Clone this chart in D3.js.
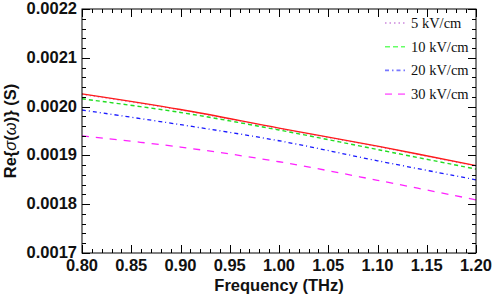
<!DOCTYPE html>
<html>
<head>
<meta charset="utf-8">
<script src="https://cdn.jsdelivr.net/npm/d3@7"></script>
<style>
  body { margin: 0; background: #fff; }
  svg { display: block; }
  .tick-label { font-family: "Liberation Sans", Arial, sans-serif; font-weight: bold; font-size: 16.5px; fill: #111; }
  .axis-title { font-family: "Liberation Sans", Arial, sans-serif; font-weight: bold; font-size: 16.5px; fill: #111; }
  .legend-text { font-family: "Liberation Serif", "Times New Roman", serif; font-size: 14.5px; fill: #111; }
</style>
</head>
<body>
<svg id="chart" width="495" height="299"></svg>
<script>
// frequency samples (THz)
const freq = [0.80, 0.90, 1.00, 1.10, 1.20];

// Re[sigma] values (S)
const base = [0.002026, 0.001994, 0.001956, 0.001919, 0.001879];
const field5 = [0.002025, 0.001993, 0.001955, 0.001918, 0.001878];
const field10 = [0.002016, 0.001988, 0.001952, 0.001912, 0.001872];
const field20 = [0.001993, 0.001963, 0.001930, 0.001889, 0.001850];
const field30 = [0.001940, 0.001917, 0.001887, 0.001849, 0.001809];

const legendLabels = ["5 kV/cm", "10 kV/cm", "20 kV/cm", "30 kV/cm"];

const xTicks = [0.80, 0.85, 0.90, 0.95, 1.00, 1.05, 1.10, 1.15, 1.20];
const yTicks = [0.0017, 0.0018, 0.0019, 0.0020, 0.0021, 0.0022];

const svg = d3.select("#chart");
const margin = { top: 9, right: 19, bottom: 46, left: 82 };
const width = 495, height = 299;

const x = d3.scaleLinear().domain([0.8, 1.2]).range([margin.left, width - margin.right]);
const y = d3.scaleLinear().domain([0.0017, 0.0022]).range([height - margin.bottom, margin.top]);

const series = [
  { values: base, color: "#ff1a1a", dash: null, width: 1.4 },
  { values: field5, color: "#c070d0", dash: "1,3", width: 1.4 },
  { values: field10, color: "#22dd22", dash: "4,3", width: 1.4 },
  { values: field20, color: "#1a1aff", dash: "4,3,1,3", width: 1.3 },
  { values: field30, color: "#ff22ff", dash: "7,7", width: 1.3 }
];

// draw the 5 kV/cm dotted one under the red solid line
const drawOrder = [1, 0, 2, 3, 4];

const line = d3.line()
  .x((d, i) => x(freq[i]))
  .y(d => y(d))
  .curve(d3.curveCatmullRom);

svg.append("g")
  .selectAll("path")
  .data(drawOrder.map(i => series[i]))
  .join("path")
  .attr("d", d => line(d.values))
  .attr("fill", "none")
  .attr("stroke", d => d.color)
  .attr("stroke-width", d => d.width)
  .attr("stroke-dasharray", d => d.dash);

// frame
const x0 = x.range()[0], x1 = x.range()[1];
const y0 = y.range()[0], y1 = y.range()[1];
svg.append("rect")
  .attr("x", x0).attr("y", y1)
  .attr("width", x1 - x0).attr("height", y0 - y1)
  .attr("fill", "none").attr("stroke", "#000").attr("stroke-width", 1);

// ticks (inward on all four sides)
const xMinor = d3.range(0, 41).map(i => 0.8 + i * 0.01);
const yMinor = d3.range(0, 26).map(i => 0.0017 + i * 0.00002);
const ticks = svg.append("g").attr("stroke", "#000").attr("stroke-width", 1);

xMinor.forEach((v, i) => {
  const len = i % 5 === 0 ? 8 : 4;
  const px = Math.round(x(v)) + 0.5;
  ticks.append("line").attr("x1", px).attr("x2", px).attr("y1", y0).attr("y2", y0 - len);
  ticks.append("line").attr("x1", px).attr("x2", px).attr("y1", y1).attr("y2", y1 + len);
});
yMinor.forEach((v, i) => {
  const len = i % 5 === 0 ? 8 : 4;
  const py = Math.round(y(v)) + 0.5;
  ticks.append("line").attr("x1", x0).attr("x2", x0 + len).attr("y1", py).attr("y2", py);
  ticks.append("line").attr("x1", x1).attr("x2", x1 - len).attr("y1", py).attr("y2", py);
});

// tick labels
svg.append("g")
  .selectAll("text")
  .data(xTicks)
  .join("text")
  .attr("class", "tick-label")
  .attr("x", d => x(d))
  .attr("y", y0 + 18)
  .attr("text-anchor", "middle")
  .text(d => d3.format(".2f")(d));

svg.append("g")
  .selectAll("text")
  .data(yTicks)
  .join("text")
  .attr("class", "tick-label")
  .attr("x", x0 - 5)
  .attr("y", d => y(d) + 5)
  .attr("text-anchor", "end")
  .text(d => d3.format(".4f")(d));

// axis titles
svg.append("text")
  .attr("class", "axis-title")
  .attr("x", (x0 + x1) / 2)
  .attr("y", 291)
  .attr("text-anchor", "middle")
  .text("Frequency (THz)");

const yTitle = svg.append("text")
  .attr("class", "axis-title")
  .attr("transform", `translate(16,${(y0 + y1) / 2}) rotate(-90)`)
  .attr("text-anchor", "middle");
yTitle.append("tspan").text("Re{");
yTitle.append("tspan").attr("font-weight", "normal").attr("font-style", "italic").text("σ");
yTitle.append("tspan").text("(");
yTitle.append("tspan").attr("font-weight", "normal").attr("font-style", "italic").text("ω");
yTitle.append("tspan").text(")} (S)");

// legend
const legend = svg.append("g")
  .selectAll("g")
  .data(legendLabels)
  .join("g")
  .attr("transform", (d, i) => `translate(385,${23 + i * 23.7})`);

const legendStyle = [
  { color: "#cc88dd", dash: "1.5,3" },
  { color: "#66ff66", dash: "5,3" },
  { color: "#7777ff", dash: "4,3,1.5,3" },
  { color: "#ff77ff", dash: "7,6" }
];

legend.append("line")
  .attr("x1", 0).attr("x2", 20)
  .attr("y1", 0).attr("y2", 0)
  .attr("stroke", (d, i) => legendStyle[i].color)
  .attr("stroke-width", 1.6)
  .attr("stroke-dasharray", (d, i) => legendStyle[i].dash);

legend.append("text")
  .attr("class", "legend-text")
  .attr("x", 26)
  .attr("y", 5)
  .text(d => d);
</script>
</body>
</html>
